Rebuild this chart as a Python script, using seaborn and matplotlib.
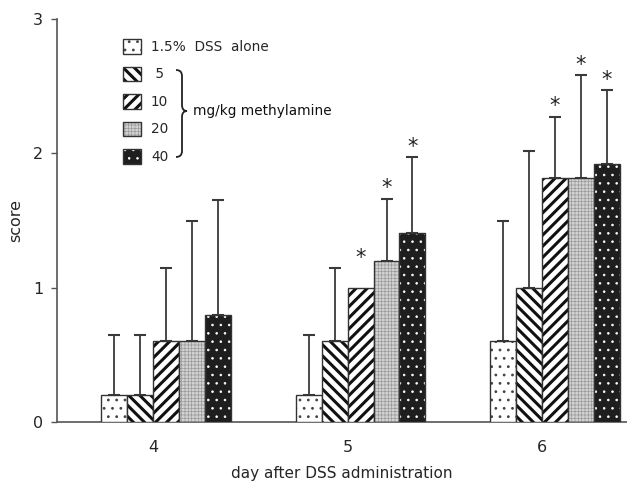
import numpy as np
import pandas as pd
import matplotlib
matplotlib.use("Agg")
import matplotlib.pyplot as plt
import matplotlib.patches as mpatches
from matplotlib.path import Path
import seaborn as sns

# ---- data ----
days = ["4", "5", "6"]
doses = ["1.5%  DSS  alone", " 5", "10", "20", "40"]
mean_dss = [0.2, 0.2, 0.6]
mean_5 = [0.2, 0.6, 1.0]
mean_10 = [0.6, 1.0, 1.82]
mean_20 = [0.6, 1.2, 1.82]
mean_40 = [0.8, 1.41, 1.92]
sd_dss = [0.45, 0.45, 0.9]
sd_5 = [0.45, 0.55, 1.02]
sd_10 = [0.55, np.nan, 0.45]
sd_20 = [0.9, 0.46, 0.76]
sd_40 = [0.85, 0.56, 0.55]
sig_dss = [False, False, False]
sig_5 = [False, False, False]
sig_10 = [False, True, True]
sig_20 = [False, True, True]
sig_40 = [False, True, True]
xlabel = "day after DSS administration"
ylabel = "score"
yticks = [0, 1, 2, 3]
bracket_text = "mg/kg methylamine"

means = [mean_dss, mean_5, mean_10, mean_20, mean_40]
sds = [sd_dss, sd_5, sd_10, sd_20, sd_40]
sigs = [sig_dss, sig_5, sig_10, sig_20, sig_40]

rows = []
for d, m in zip(doses, means):
    for day, v in zip(days, m):
        rows.append({"day": day, "dose": d, "score": v})
df = pd.DataFrame(rows)

sns.set_theme(style="white")
plt.rcParams["font.family"] = ["DejaVu Sans"]
plt.rcParams["hatch.linewidth"] = 1.0

W, H = 627, 482
fig = plt.figure(figsize=(W / 100, H / 100), dpi=100)
ax = fig.add_axes([57 / W, (H - 422) / H, (627 - 57) / W, (422 - 19) / H])

face = ["white", "white", "white", "#d2d2d2", "#1e1e1e"]
hatches = ["..", "\\\\\\", "///", "+++++", ".."]
hatch_lw = [0.8, 2.2, 2.2, 0.5, 0.6]
hatch_col = ["#444444", "#111111", "#111111", "#9a9a9a", "white"]

sns.barplot(data=df, x="day", y="score", hue="dose", hue_order=doses,
            palette=face, errorbar=None, width=0.668, gap=0, dodge=True,
            legend=False, ax=ax, zorder=3)


def style_patch(p, i):
    p.set_facecolor(face[i])
    p.set_edgecolor("#333333")
    p.set_linewidth(1.0)
    p.set_hatch(hatches[i])
    if hasattr(p, "set_hatch_linewidth"):
        p.set_hatch_linewidth(hatch_lw[i])
    p._hatch_color = matplotlib.colors.to_rgba(hatch_col[i])


bars = sorted([p for p in ax.patches if isinstance(p, mpatches.Rectangle)],
              key=lambda p: p.get_x())
nh = len(doses)
err_x = [[] for _ in range(nh)]
err_y = [[] for _ in range(nh)]
err_e = [[] for _ in range(nh)]
for k, bar in enumerate(bars):
    j, i = divmod(k, nh)
    style_patch(bar, i)
    xc = bar.get_x() + bar.get_width() / 2
    top = bar.get_height()
    sd = sds[i][j]
    if not np.isnan(sd):
        err_x[i].append(xc); err_y[i].append(top); err_e[i].append(sd)
        anchor = top + sd
    else:
        anchor = top + 0.14
    if sigs[i][j]:
        ax.annotate("*", (xc, anchor), xytext=(0, 0.5), textcoords="offset points",
                    ha="center", va="bottom", fontsize=15, color="#222222", zorder=5)
for i in range(nh):
    if err_x[i]:
        ax.errorbar(err_x[i], err_y[i], yerr=[np.zeros(len(err_e[i])), err_e[i]], fmt="none",
                    ecolor="#3a3a3a", elinewidth=1.3, capsize=4, capthick=1.5, zorder=2)

ax.set_xlim(-0.5604, 2.370)
ax.set_ylim(0, 3)
ax.set_yticks(yticks)
ax.set_yticklabels([str(t) for t in yticks], fontsize=11.5)
ax.set_xticks(np.arange(len(days)) - 0.067)
ax.set_xticklabels(days, fontsize=11.5)
ax.tick_params(axis="x", length=0, pad=13)
ax.tick_params(axis="y", length=4, width=1, direction="out", pad=6, color="#555555", left=True)
ax.set_xlabel(xlabel, fontsize=11, labelpad=8)
ax.set_ylabel(ylabel, fontsize=11.5, labelpad=7)
for s in ["top", "right"]:
    ax.spines[s].set_visible(False)
for s in ["left", "bottom"]:
    ax.spines[s].set_color("#555555")
    ax.spines[s].set_linewidth(1.2)
ax.grid(False)

# legend
handles = []
for i, d in enumerate(doses):
    p = mpatches.Patch(facecolor=face[i], edgecolor="#333333", hatch=hatches[i], linewidth=1.0)
    handles.append(p)
leg = ax.legend(handles=handles, labels=doses, loc="upper left", frameon=False,
                bbox_to_anchor=(123 / W, 1 - 39 / H), bbox_transform=fig.transFigure,
                fontsize=9.8, handlelength=1.3, handleheight=1.3, handletextpad=0.75,
                labelspacing=0.92, borderpad=0, borderaxespad=0)
for i, h in enumerate(leg.legend_handles):
    style_patch(h, i)


def px(x, y):
    return (x / W, 1 - y / H)


top_y, mid_y, bot_y = 70, 111, 157
x0, x1, xt = 176, 182, 187
verts = [px(x0, top_y), px(x1, top_y), px(x1, top_y + 6),
         px(x1, mid_y - 6), px(x1, mid_y), px(xt, mid_y),
         px(x1, mid_y), px(x1, mid_y + 6),
         px(x1, bot_y - 6), px(x1, bot_y), px(x0, bot_y)]
codes = [Path.MOVETO, Path.CURVE3, Path.CURVE3,
         Path.LINETO, Path.CURVE3, Path.CURVE3,
         Path.CURVE3, Path.CURVE3,
         Path.LINETO, Path.CURVE3, Path.CURVE3]
brace = mpatches.PathPatch(Path(verts, codes), transform=fig.transFigure,
                           fill=False, edgecolor="#222222", linewidth=1.3)
fig.patches.append(brace)
fig.text(193 / W, 1 - 111 / H, bracket_text, fontsize=9.8, va="center", ha="left", color="#111111")

fig.savefig("out.png", dpi=100, facecolor="white")
